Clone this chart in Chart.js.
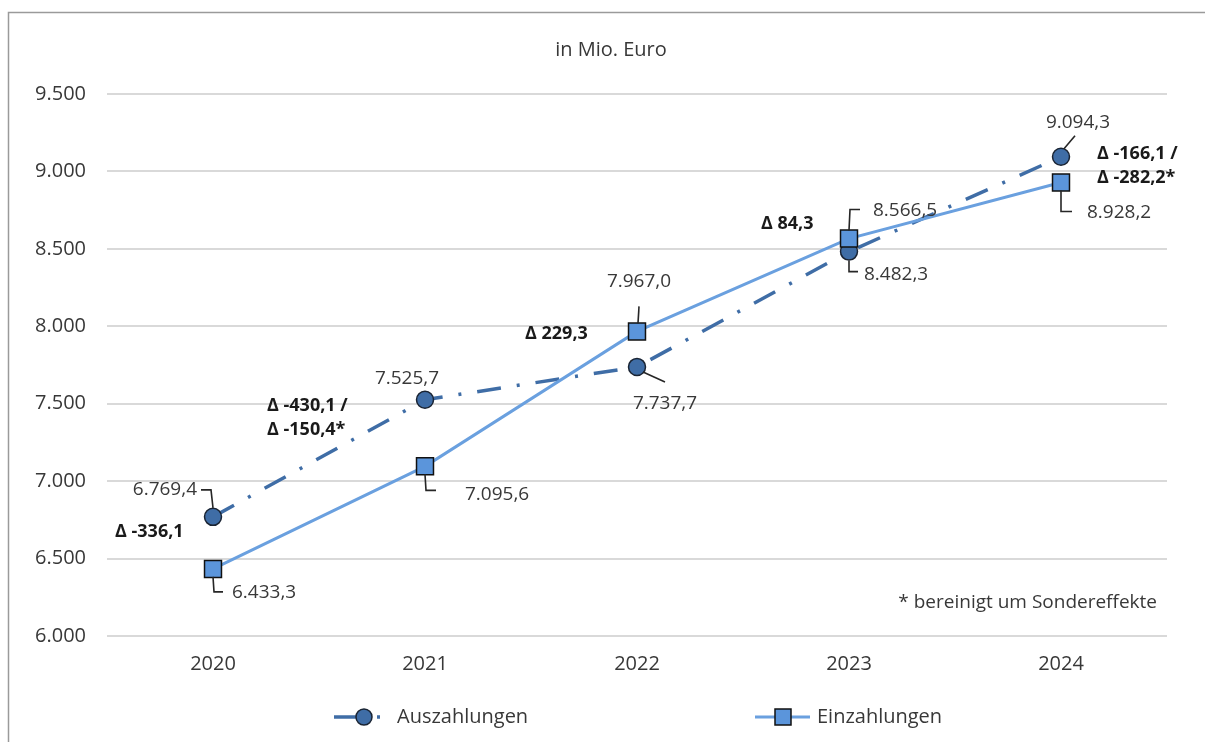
<!DOCTYPE html>
<html>
<head>
<meta charset="utf-8">
<script src="https://cdn.jsdelivr.net/npm/chart.js@4.4.1/dist/chart.umd.min.js"></script>
<style>
  html, body { margin: 0; padding: 0; background: #fff; }
  #wrap { width: 1205px; height: 742px; }
</style>
</head>
<body>
<div id="wrap"><canvas id="chart" width="1205" height="742"></canvas></div>
<script>
// Werte aus der Grafik (in Mio. Euro)
var years = ['2020', '2021', '2022', '2023', '2024'];
var auszahlungen = [6769.4, 7525.7, 7737.7, 8482.3, 9094.3];
var einzahlungen = [6433.3, 7095.6, 7967.0, 8566.5, 8928.2];
var deltaTexts = [
  ['Δ -336,1'],
  ['Δ -430,1 /', 'Δ -150,4*'],
  ['Δ 229,3'],
  ['Δ 84,3'],
  ['Δ -166,1 /', 'Δ -282,2*']
];
var yMin = 6000, yMax = 9500, yStep = 500;
var unitTitle = 'in Mio. Euro';
var footnote = '* bereinigt um Sondereffekte';

// Platzierung der Datenbeschriftungen (Pixel relativ zum Punkt)
var ausLabelPos = [
  { dx: -16, dy: -27, align: 'right',  leader: [[0, -9], [-2, -27], [-12, -27]] },
  { dx: -18, dy: -21, align: 'center', leader: null },
  { dx: 28,  dy: 37,  align: 'center', leader: [[6, 5], [28, 15]] },
  { dx: 15,  dy: 23,  align: 'left',   leader: [[0, 9], [0, 20], [9, 20]] },
  { dx: 17,  dy: -34, align: 'center', leader: [[3, -8], [14, -21]] }
];
var einLabelPos = [
  { dx: 19, dy: 24,  align: 'left',   leader: [[0, 8], [1, 23], [10, 23]] },
  { dx: 40, dy: 28,  align: 'left',   leader: [[0, 8], [1, 24], [11, 24]] },
  { dx: 2,  dy: -50, align: 'center', leader: [[1, -8], [2, -25]] },
  { dx: 24, dy: -28, align: 'left',   leader: [[0, -8], [1, -29], [11, -29]] },
  { dx: 26, dy: 30,  align: 'left',   leader: [[0, 8], [0, 29], [11, 29]] }
];
// Delta-Texte: relativ zur Mitte beider Werte
var deltaPos = [
  { dx: -98,  dy: -11 },
  { dx: -158, dy: -27 },
  { dx: -112, dy: -15 },
  { dx: -88,  dy: -21 },
  { dx: 36,   dy: -16 }
];

var FONT = '"Open Sans", "Noto Sans", sans-serif';
var TEXT = '#383838';
var AUS_COLOR = '#3f6da6';
var EIN_COLOR = '#6aa0df';

function fmtDE(v, dec) {
  var s = v.toFixed(dec);
  var parts = s.split('.');
  var intPart = parts[0].replace(/\B(?=(\d{3})+(?!\d))/g, '.');
  return dec > 0 ? intPart + ',' + parts[1] : intPart;
}

var annotations = {
  id: 'annotations',
  afterDatasetsDraw: function(chart) {
    var ctx = chart.ctx;
    var xs = chart.scales.x, ys = chart.scales.y;
    ctx.save();

    // Datenbeschriftungen mit Führungslinien
    [[0, auszahlungen, ausLabelPos], [1, einzahlungen, einLabelPos]].forEach(function(cfg) {
      var meta = chart.getDatasetMeta(cfg[0]);
      cfg[1].forEach(function(v, i) {
        var pt = meta.data[i];
        var p = cfg[2][i];
        if (p.leader) {
          ctx.beginPath();
          ctx.strokeStyle = '#262626';
          ctx.lineWidth = 1.6;
          p.leader.forEach(function(o, k) {
            if (k === 0) ctx.moveTo(pt.x + o[0], pt.y + o[1]);
            else ctx.lineTo(pt.x + o[0], pt.y + o[1]);
          });
          ctx.stroke();
        }
        ctx.fillStyle = TEXT;
        ctx.font = '19px ' + FONT;
        ctx.textAlign = p.align;
        ctx.textBaseline = 'middle';
        ctx.fillText(fmtDE(v, 1), pt.x + p.dx, pt.y + p.dy);
      });
    });

    // Differenzen
    ctx.fillStyle = '#1a1a1a';
    ctx.font = 'bold 18px ' + FONT;
    ctx.textAlign = 'left';
    ctx.textBaseline = 'middle';
    deltaTexts.forEach(function(lines, i) {
      var x = xs.getPixelForValue(i);
      var y = ys.getPixelForValue((auszahlungen[i] + einzahlungen[i]) / 2);
      lines.forEach(function(t, k) {
        ctx.fillText(t, x + deltaPos[i].dx, y + deltaPos[i].dy + k * 24);
      });
    });

    // Fußnote
    ctx.fillStyle = TEXT;
    ctx.font = '19px ' + FONT;
    ctx.textAlign = 'right';
    ctx.fillText(footnote, chart.chartArea.right - 10, 603);
    ctx.restore();
  },
  afterDraw: function(chart) {
    var ctx = chart.ctx;
    ctx.save();
    // Rahmen
    ctx.strokeStyle = '#9a9a9a';
    ctx.lineWidth = 1.5;
    ctx.beginPath();
    ctx.moveTo(8.5, 742);
    ctx.lineTo(8.5, 12.5);
    ctx.lineTo(1205, 12.5);
    ctx.stroke();

    // Titel
    ctx.fillStyle = TEXT;
    ctx.font = '20px ' + FONT;
    ctx.textAlign = 'center';
    ctx.textBaseline = 'middle';
    ctx.fillText(unitTitle, 611, 50);

    // Legende
    var ly = 717;
    var aus = chart.data.datasets[0], ein = chart.data.datasets[1];
    ctx.strokeStyle = aus.borderColor;
    ctx.lineWidth = aus.borderWidth;
    ctx.beginPath(); ctx.moveTo(334, ly); ctx.lineTo(362, ly); ctx.stroke();
    ctx.beginPath(); ctx.moveTo(377, ly); ctx.lineTo(380, ly); ctx.stroke();
    ctx.beginPath();
    ctx.arc(364, ly, 8, 0, Math.PI * 2);
    ctx.fillStyle = aus.pointBackgroundColor; ctx.fill();
    ctx.strokeStyle = aus.pointBorderColor; ctx.lineWidth = 1.5; ctx.stroke();

    ctx.strokeStyle = ein.borderColor;
    ctx.lineWidth = ein.borderWidth;
    ctx.beginPath(); ctx.moveTo(755, ly); ctx.lineTo(810, ly); ctx.stroke();
    ctx.fillStyle = ein.pointBackgroundColor;
    ctx.fillRect(775, ly - 8, 16, 16);
    ctx.strokeStyle = ein.pointBorderColor; ctx.lineWidth = 1.5;
    ctx.strokeRect(775, ly - 8, 16, 16);

    ctx.fillStyle = TEXT;
    ctx.font = '20px ' + FONT;
    ctx.textAlign = 'left';
    ctx.fillText(aus.label, 397, ly);
    ctx.fillText(ein.label, 817, ly);
    ctx.restore();
  }
};

new Chart(document.getElementById('chart'), {
  type: 'line',
  data: {
    labels: years,
    datasets: [{
      label: 'Auszahlungen',
      data: auszahlungen,
      borderColor: AUS_COLOR,
      backgroundColor: AUS_COLOR,
      borderWidth: 3.5,
      borderDash: [24, 16, 3, 16],
      pointStyle: 'circle',
      pointRadius: 8.5,
      pointBackgroundColor: AUS_COLOR,
      pointBorderColor: '#1a2433',
      pointBorderWidth: 1.5,
      tension: 0,
      order: 1
    }, {
      label: 'Einzahlungen',
      data: einzahlungen,
      borderColor: EIN_COLOR,
      backgroundColor: EIN_COLOR,
      borderWidth: 3,
      pointStyle: 'rect',
      pointRadius: 12,
      pointBackgroundColor: '#5b95db',
      pointBorderColor: '#111111',
      pointBorderWidth: 1.5,
      tension: 0,
      order: 0
    }]
  },
  options: {
    responsive: false,
    animation: false,
    layout: { padding: { left: 0, right: 38, top: 94, bottom: 0 } },
    plugins: {
      legend: { display: false },
      title: { display: false },
      tooltip: { enabled: false }
    },
    scales: {
      x: {
        offset: true,
        grid: { display: false, drawTicks: false },
        border: { display: false },
        ticks: { color: TEXT, font: { family: FONT, size: 20 }, padding: 16 },
        afterFit: function(s) { s.height = 106; }
      },
      y: {
        min: yMin,
        max: yMax,
        grid: { color: '#d9d9d9', lineWidth: 2, drawTicks: false },
        border: { display: false },
        ticks: {
          stepSize: yStep,
          color: TEXT,
          font: { family: FONT, size: 20 },
          padding: 21,
          callback: function(v) { return fmtDE(v, 0); }
        },
        afterFit: function(s) { s.width = 107; }
      }
    }
  },
  plugins: [annotations]
});
</script>
</body>
</html>
